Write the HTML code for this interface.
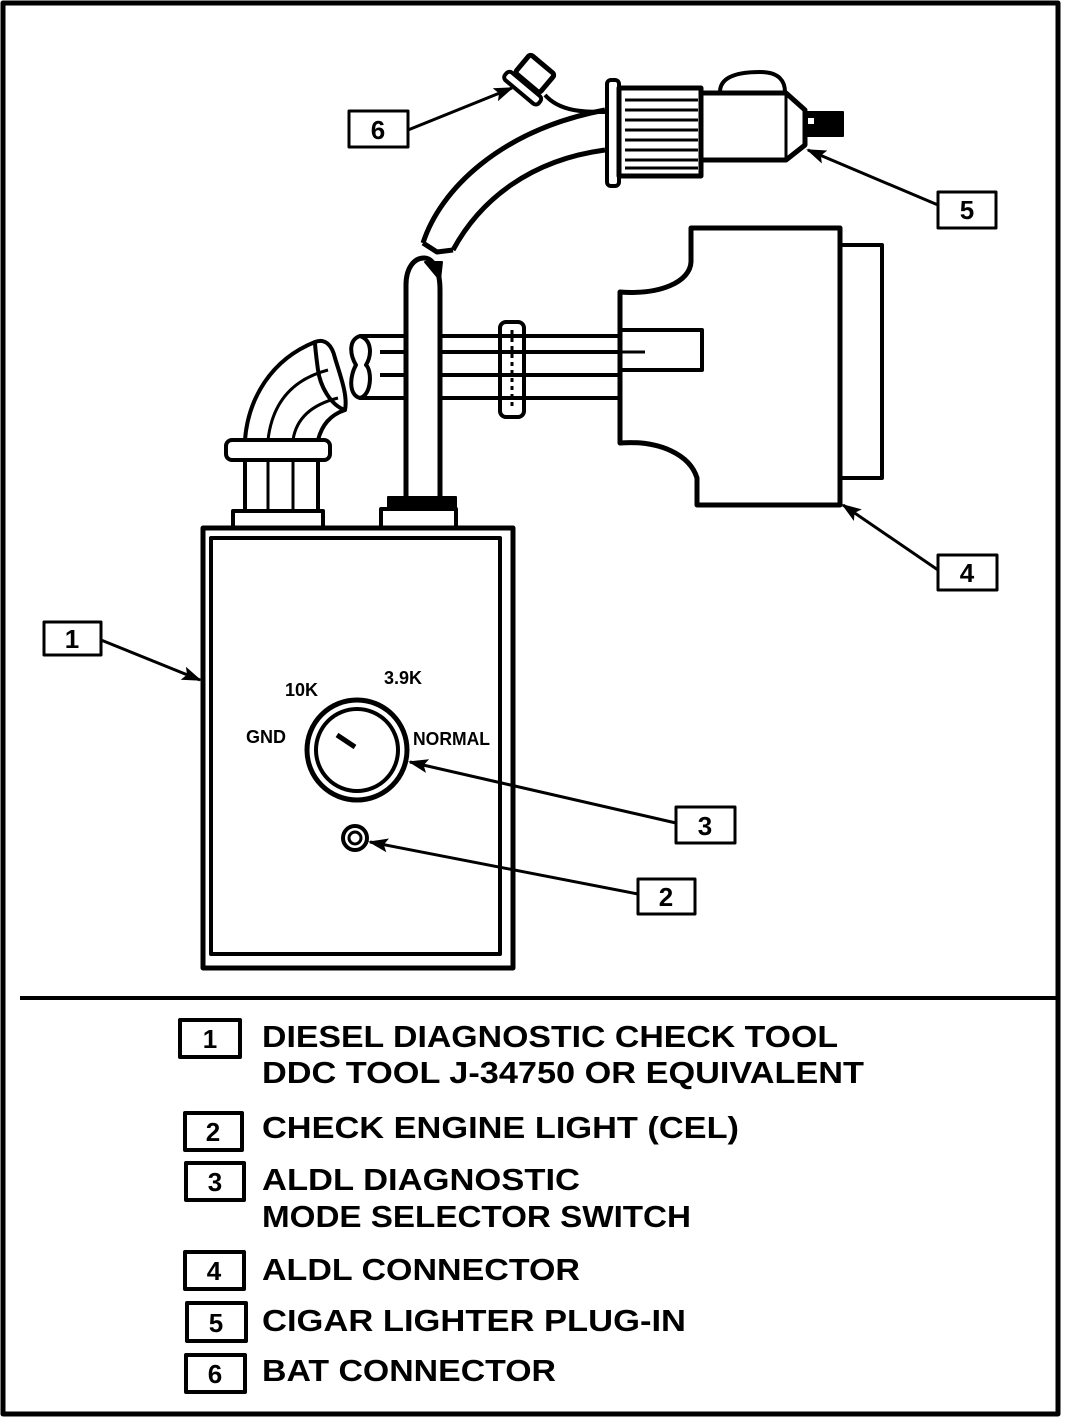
<!DOCTYPE html>
<html><head><meta charset="utf-8"><style>
html,body{margin:0;padding:0;background:#fff}
svg{display:block}
text{font-family:"Liberation Sans",sans-serif;font-weight:bold;fill:#000}
</style></head><body>
<svg width="1072" height="1420" viewBox="0 0 1072 1420" xmlns="http://www.w3.org/2000/svg">
<defs>
<marker id="ah2" markerWidth="20" markerHeight="14" refX="18" refY="7" orient="auto" markerUnits="userSpaceOnUse"><path d="M0,0 L20,7 L0,14 L4,7 Z" fill="#000"/></marker></defs>
<g fill="none" stroke="#000" stroke-linejoin="round">
<rect x="3" y="3" width="1055" height="1411" stroke-width="5"/>
<line x1="20" y1="998" x2="1058" y2="998" stroke-width="4"/>
<rect x="203" y="528" width="310" height="440" stroke-width="5"/>
<rect x="211" y="538" width="289" height="416" stroke-width="4"/>
<circle cx="357" cy="750" r="50" stroke-width="5"/>
<circle cx="357" cy="750" r="41" stroke-width="4"/>
<line x1="337" y1="735" x2="355" y2="747" stroke-width="5"/>
<circle cx="355" cy="838" r="12" stroke-width="4"/>
<circle cx="355" cy="838" r="6" stroke-width="3"/>
<rect x="233" y="511" width="90" height="17" stroke-width="4"/>
<line x1="245" y1="460" x2="245" y2="511" stroke-width="4"/>
<line x1="268" y1="460" x2="268" y2="511" stroke-width="3"/>
<line x1="293" y1="460" x2="293" y2="511" stroke-width="3"/>
<line x1="318" y1="460" x2="318" y2="511" stroke-width="4"/>
<rect x="226" y="440" width="104" height="20" rx="6" stroke-width="4"/>
<path d="M245,440 C248,400 270,360 315,342" stroke-width="4"/>
<path d="M268,440 C272,405 290,380 328,370" stroke-width="3"/>
<path d="M293,440 C296,420 310,405 338,398" stroke-width="3"/>
<path d="M318,440 C322,425 330,415 345,410" stroke-width="4"/>
<path d="M315,342 C325,338 332,345 335,358 C340,375 348,395 345,410 C330,405 320,385 318,370 C316,355 315,345 315,342 Z" stroke-width="4"/>
<path d="M360,336 L620,336 M360,398 L620,398 M380,352 L620,352 M380,375 L620,375" stroke-width="4"/>
<path d="M360,336 C348,340 350,355 356,365 C350,375 348,395 360,398 C372,395 372,370 366,365 C372,355 372,340 360,336 Z" stroke-width="4"/>
<rect x="500" y="322" width="24" height="95" rx="6" stroke-width="4"/>
<line x1="512" y1="330" x2="512" y2="410" stroke-width="3" stroke-dasharray="4,4"/>
<path d="M691,228 L840,228 L840,505 L697,505 L697,478 C690,455 660,440 620,443 L620,292 C660,295 690,282 691,262 Z" fill="#fff" stroke-width="5"/>
<rect x="840" y="245" width="42" height="233" stroke-width="4"/>
<rect x="620" y="330" width="82" height="40" stroke-width="4"/>
<line x1="620" y1="352" x2="645" y2="352" stroke-width="3"/>
<path d="M406,500 L406,285 C406,268 414,258 424,258 C432,258 440,268 440,290 L440,500" fill="#fff" stroke-width="5"/>
<path d="M425,262 L442,262 L440,280 Z" fill="#000" stroke-width="2"/>
<rect x="388" y="497" width="68" height="12" fill="#000" stroke-width="2"/>
<rect x="381" y="509" width="75" height="19" stroke-width="4"/>
<path d="M423,243 C440,190 500,130 605,110" stroke-width="5"/>
<path d="M453,250 C480,200 530,160 605,150" stroke-width="5"/>
<path d="M423,243 L437,252 L453,250" stroke-width="5"/>
<path d="M545,95 C560,112 585,112 605,112" stroke-width="4"/>
<rect x="607" y="80" width="12" height="106" rx="4" stroke-width="4"/>
<rect x="619" y="88" width="82" height="88" stroke-width="5"/>
<path d="M625,100 H698 M625,110 H698 M625,120 H698 M625,130 H698 M625,140 H698 M625,150 H698 M625,160 H698 M625,168 H698" stroke-width="3"/>
<path d="M701,93 L786,93 L805,110 L805,145 L786,160 L701,160 Z" stroke-width="5"/>
<line x1="786" y1="93" x2="786" y2="160" stroke-width="3"/>
<path d="M720,92 C720,78 735,72 760,72 C780,72 785,82 785,92" stroke-width="4"/>
<rect x="805" y="112" width="38" height="24" fill="#000" stroke-width="2"/>
<rect x="808" y="118" width="6" height="6" fill="#fff" stroke="none"/>
<g transform="rotate(40 535 75)">
<rect x="518" y="62" width="32" height="24" rx="3" stroke-width="5"/>
<rect x="512" y="88" width="44" height="10" rx="4" stroke-width="4"/>
</g>
<rect x="44" y="622" width="57" height="33" stroke-width="3"/>
<rect x="638" y="879" width="57" height="35" stroke-width="3"/>
<rect x="676" y="807" width="59" height="36" stroke-width="3"/>
<rect x="938" y="555" width="59" height="35" stroke-width="3"/>
<rect x="938" y="192" width="58" height="36" stroke-width="3"/>
<rect x="349" y="111" width="59" height="36" stroke-width="3"/>
<g stroke-width="3">
<line x1="101" y1="640" x2="200" y2="680" marker-end="url(#ah2)"/>
<line x1="676" y1="823" x2="410" y2="762" marker-end="url(#ah2)"/>
<line x1="638" y1="894" x2="370" y2="842" marker-end="url(#ah2)"/>
<line x1="938" y1="570" x2="843" y2="505" marker-end="url(#ah2)"/>
<line x1="938" y1="205" x2="808" y2="150" marker-end="url(#ah2)"/>
<line x1="408" y1="130" x2="512" y2="88" marker-end="url(#ah2)"/>
</g>
<rect x="180" y="1020" width="60" height="37" stroke-width="4"/>
<rect x="185" y="1113" width="57" height="37" stroke-width="4"/>
<rect x="186" y="1163" width="58" height="37" stroke-width="4"/>
<rect x="185" y="1252" width="59" height="37" stroke-width="4"/>
<rect x="187" y="1303" width="59" height="38" stroke-width="4"/>
<rect x="186" y="1355" width="59" height="37" stroke-width="4"/>
</g>
<g font-size="26" text-anchor="middle">
<text x="72" y="648">1</text>
<text x="666" y="906">2</text>
<text x="705" y="835">3</text>
<text x="967" y="582">4</text>
<text x="967" y="219">5</text>
<text x="378" y="139">6</text>
</g>
<g font-size="18">
<text x="285" y="696">10K</text>
<text x="384" y="684">3.9K</text>
<text x="246" y="743">GND</text>
<text x="413" y="745" textLength="77" lengthAdjust="spacingAndGlyphs">NORMAL</text>
</g>
<g font-size="26" text-anchor="middle">
<text x="210" y="1048">1</text>
<text x="213" y="1141">2</text>
<text x="215" y="1191">3</text>
<text x="214" y="1280">4</text>
<text x="216" y="1332">5</text>
<text x="215" y="1383">6</text>
</g>
<g font-size="31">
<text x="262" y="1047" textLength="576" lengthAdjust="spacingAndGlyphs">DIESEL DIAGNOSTIC CHECK TOOL</text>
<text x="262" y="1083" textLength="602" lengthAdjust="spacingAndGlyphs">DDC TOOL J-34750 OR EQUIVALENT</text>
<text x="262" y="1138" textLength="477" lengthAdjust="spacingAndGlyphs">CHECK ENGINE LIGHT (CEL)</text>
<text x="262" y="1190" textLength="318" lengthAdjust="spacingAndGlyphs">ALDL DIAGNOSTIC</text>
<text x="262" y="1227" textLength="429" lengthAdjust="spacingAndGlyphs">MODE SELECTOR SWITCH</text>
<text x="262" y="1280" textLength="318" lengthAdjust="spacingAndGlyphs">ALDL CONNECTOR</text>
<text x="262" y="1331" textLength="424" lengthAdjust="spacingAndGlyphs">CIGAR LIGHTER PLUG-IN</text>
<text x="262" y="1381" textLength="294" lengthAdjust="spacingAndGlyphs">BAT CONNECTOR</text>
</g>
</svg>
</body></html>
